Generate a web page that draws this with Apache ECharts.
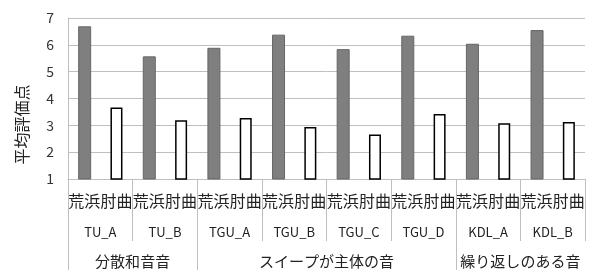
<!DOCTYPE html>
<html>
<head>
<meta charset="utf-8">
<script src="https://cdn.jsdelivr.net/npm/echarts@6/dist/echarts.min.js"></script>
<style>
  html, body { margin: 0; padding: 0; background: #fff; }
  #main { width: 590px; height: 270px; }
</style>
</head>
<body>
<div id="main"></div>
<script>
// 各サンプルの平均評価点
var pieces = ['TU_A', 'TU_B', 'TGU_A', 'TGU_B', 'TGU_C', 'TGU_D', 'KDL_A', 'KDL_B']
var pairLabels = ['荒浜', '肘曲']
var arahama = [6.69, 5.57, 5.89, 6.38, 5.84, 6.34, 6.04, 6.55]
var hijikyoku = [3.66, 3.19, 3.27, 2.94, 2.66, 3.42, 3.08, 3.12]
var groups = ['分散和音音', 'スイープが主体の音', '繰り返しのある音']
var groupSizes = [2, 4, 2]
var yTicks = [1, 2, 3, 4, 5, 6, 7]

var font = '"Noto Sans CJK JP", "Noto Sans", sans-serif'
var gridColor = '#bfbfbf'

// 16カテゴリ (荒浜/肘曲 を交互に)
var cats = []
var grayData = []
var whiteData = []
pieces.forEach(function (p, i) {
  cats.push(pairLabels[0], pairLabels[1])
  grayData.push(arahama[i], '-')
  whiteData.push('-', hijikyoku[i])
})

// グループ境界と中心
var groupEdges = [0]
var groupCenters = []
groupSizes.forEach(function (n) {
  var s = groupEdges[groupEdges.length - 1]
  groupCenters.push(s + n / 2)
  groupEdges.push(s + n)
})

var myChart = echarts.init(document.getElementById('main'))
var option = {
  animation: false,
  textStyle: { fontFamily: font },
  grid: { left: 68, right: 5, top: 18, bottom: 91 },
  yAxis: {
    type: 'value',
    min: yTicks[0],
    max: yTicks[yTicks.length - 1],
    interval: 1,
    name: '平均評価点',
    nameLocation: 'middle',
    nameRotate: 90,
    nameGap: 38,
    nameTextStyle: { fontSize: 16, color: '#222', fontFamily: font, padding: [0, 52, 0, 0] },
    axisLine: { show: true, lineStyle: { color: gridColor } },
    axisTick: { show: false },
    axisLabel: { fontSize: 14, color: '#333', margin: 14, fontFamily: font },
    splitLine: { lineStyle: { color: gridColor, width: 1 } }
  },
  xAxis: [
    {
      type: 'category',
      data: cats,
      axisLine: { lineStyle: { color: gridColor } },
      axisTick: { show: false },
      axisLabel: { interval: 0, fontSize: 16, color: '#222', margin: 14, fontFamily: font }
    },
    {
      type: 'category',
      data: pieces,
      position: 'bottom',
      axisLine: { show: false },
      axisTick: { show: true, interval: 0, length: 62, lineStyle: { color: gridColor } },
      axisLabel: { interval: 0, fontSize: 13, color: '#222', margin: 47, fontFamily: font }
    },
    {
      type: 'value',
      min: 0,
      max: pieces.length,
      position: 'bottom',
      axisLine: { show: false },
      splitLine: { show: false },
      axisTick: { show: true, customValues: groupEdges.slice(0, -1), length: 91, lineStyle: { color: gridColor } },
      axisLabel: {
        customValues: groupCenters,
        fontSize: 15,
        color: '#222',
        margin: 75,
        fontFamily: font,
        formatter: function (v) {
          var i = groupCenters.indexOf(v)
          return i >= 0 ? groups[i] : ''
        }
      }
    }
  ],
  series: [
    {
      name: '荒浜',
      type: 'bar',
      xAxisIndex: 0,
      barWidth: 13,
      barGap: '-100%',
      itemStyle: { color: '#7f7f7f', borderColor: '#666', borderWidth: 1 },
      data: grayData
    },
    {
      name: '肘曲',
      type: 'bar',
      xAxisIndex: 0,
      barWidth: 12,
      barGap: '-100%',
      itemStyle: { color: '#fff', borderColor: '#000', borderWidth: 1.5 },
      data: whiteData
    }
  ]
}
option && myChart.setOption(option)
</script>
</body>
</html>
